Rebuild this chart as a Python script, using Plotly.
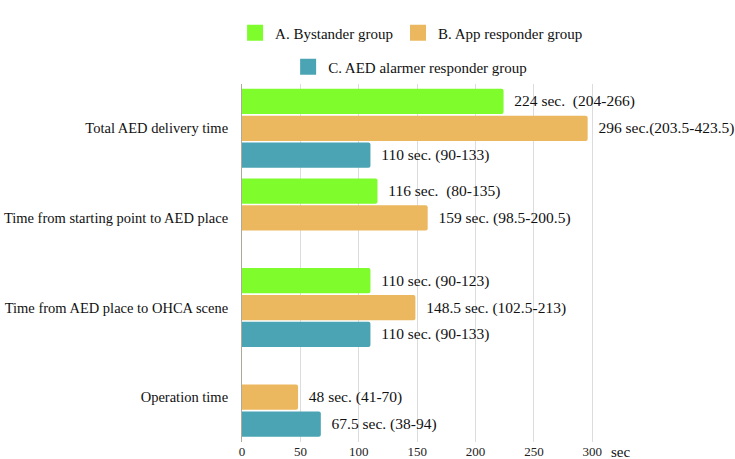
import plotly.graph_objects as go

categories = [
    "Total AED delivery time",
    "Time from starting point to AED place",
    "Time from AED place to OHCA scene",
    "Operation time",
]
series_names = [
    "A. Bystander group",
    "B. App responder group",
    "C. AED alarmer responder group",
]
bystander = [224, 116, 110, None]
app_responder = [296, 159, 148.5, 48]
aed_alarmer = [110, None, 110, 67.5]

bystander_labels = ["224 sec.\u00a0 (204-266)", "116 sec.\u00a0 (80-135)", "110 sec. (90-123)", ""]
app_labels = ["296 sec.(203.5-423.5)", "159 sec. (98.5-200.5)", "148.5 sec. (102.5-213)", "48 sec. (41-70)"]
aed_labels = ["110 sec. (90-133)", "", "110 sec. (90-133)", "67.5 sec. (38-94)"]

x_ticks = [0, 50, 100, 150, 200, 250, 300]
unit_label = "sec"

colors = ["#7efc2c", "#ebb85f", "#4aa4b4"]
FONT = "Liberation Serif"
PAD = "\u00a0\u00a0"

fig = go.Figure()
for name, vals, labs, col in zip(series_names,
                                 [bystander, app_responder, aed_alarmer],
                                 [bystander_labels, app_labels, aed_labels],
                                 colors):
    fig.add_trace(go.Bar(
        y=categories, x=vals, orientation="h", name=name,
        marker=dict(color=col, cornerradius=2, line=dict(width=0)),
        text=[PAD + t if t else "" for t in labs],
        textposition="outside", constraintext="none",
        textfont=dict(family=FONT, size=15.5, color="#111"),
        cliponaxis=False, showlegend=False, hoverinfo="skip",
    ))

# legend keys (square swatches)
for i, (name, col) in enumerate(zip(series_names, colors)):
    fig.add_trace(go.Scatter(
        x=[None], y=[None], mode="markers", name=name,
        marker=dict(symbol="square", size=16, color=col),
        legend="legend" if i < 2 else "legend2", showlegend=True,
    ))

fig.update_layout(
    template="none",
    width=735, height=459,
    margin=dict(l=242, r=131, t=82, b=17),
    paper_bgcolor="white", plot_bgcolor="white",
    barmode="group", bargap=0.1, bargroupgap=0.06,
    font=dict(family=FONT, size=15, color="#111"),
    legend=dict(orientation="h", xref="container", yref="container",
                x=0.56, y=1 - 33 / 459, xanchor="center", yanchor="middle",
                font=dict(family=FONT, size=15, color="#111"),
                bgcolor="rgba(0,0,0,0)"),
    legend2=dict(orientation="h", xref="container", yref="container",
                 x=0.558, y=1 - 67 / 459, xanchor="center", yanchor="middle",
                 font=dict(family=FONT, size=15, color="#111"),
                 bgcolor="rgba(0,0,0,0)"),
    xaxis=dict(range=[0, 310], tickvals=x_ticks, showgrid=True,
               gridcolor="#dcdcdc", gridwidth=1, zeroline=False,
               showline=False, ticks="", tickfont=dict(family=FONT, size=13, color="#222"),
               fixedrange=True),
    yaxis=dict(categoryorder="array", categoryarray=categories,
               range=[3.5, -0.5], showgrid=False, zeroline=False,
               showline=True, linecolor="#b0a89a", linewidth=1, ticks="",
               ticklabelstandoff=10,
               tickfont=dict(family=FONT, size=14.5, color="#111")),
    annotations=[dict(text=unit_label, xref="paper", yref="paper", x=1, y=0,
                      xanchor="left", yanchor="top", xshift=5, yshift=0,
                      showarrow=False, font=dict(family=FONT, size=15, color="#111"))],
)

fig.write_html("out.html")
